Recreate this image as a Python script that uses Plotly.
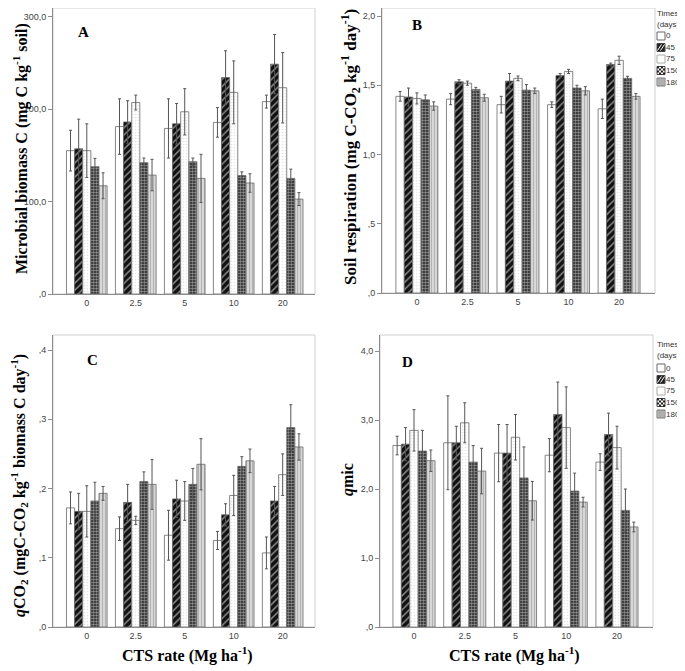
import plotly.graph_objects as go
from plotly.subplots import make_subplots

# la pagina tiene 8 px de margen: la figura se dibuja desplazada
OFF = 8
W, H = 685 - OFF, 671 - OFF

rates = ["0", "2.5", "5", "10", "20"]
times = ["0", "45", "75", "150", "180"]

# filas = tiempos (0, 45, 75, 150, 180 dias), columnas = dosis CTS
mbc = [[155, 181, 179, 185.5, 208],
       [157, 186, 184, 234, 248.5],
       [155, 207, 197, 218, 223],
       [137.6, 142, 143, 128, 125],
       [117, 128.6, 125, 120, 102.6]]
mbc_err = [[22, 30, 32, 16, 7],
           [32, 23, 22, 29, 32],
           [29, 8, 25, 34, 38],
           [9, 5, 4, 4, 10],
           [14, 17, 26, 10, 7]]

resp = [[1.42, 1.40, 1.36, 1.36, 1.33],
        [1.415, 1.525, 1.53, 1.57, 1.65],
        [1.405, 1.515, 1.55, 1.60, 1.68],
        [1.395, 1.47, 1.465, 1.48, 1.55],
        [1.35, 1.41, 1.46, 1.46, 1.42]]
resp_err = [[0.035, 0.04, 0.06, 0.02, 0.07],
            [0.065, 0.015, 0.055, 0.015, 0.01],
            [0.04, 0.015, 0.017, 0.015, 0.03],
            [0.035, 0.015, 0.04, 0.02, 0.015],
            [0.03, 0.025, 0.02, 0.03, 0.02]]

qco2 = [[0.172, 0.142, 0.1325, 0.125, 0.107],
        [0.167, 0.180, 0.185, 0.162, 0.182],
        [0.167, 0.154, 0.182, 0.19, 0.22],
        [0.182, 0.210, 0.206, 0.232, 0.288],
        [0.193, 0.206, 0.235, 0.240, 0.260]]
qco2_err = [[0.023, 0.017, 0.036, 0.013, 0.023],
            [0.026, 0.026, 0.027, 0.016, 0.021],
            [0.037, 0.006, 0.028, 0.029, 0.03],
            [0.027, 0.014, 0.023, 0.014, 0.033],
            [0.01, 0.036, 0.037, 0.017, 0.019]]

qmic = [[2.63, 2.67, 2.52, 2.49, 2.39],
        [2.65, 2.67, 2.52, 3.08, 2.79],
        [2.85, 2.96, 2.75, 2.89, 2.60],
        [2.55, 2.39, 2.16, 1.97, 1.69],
        [2.41, 2.26, 1.83, 1.81, 1.45]]
qmic_err = [[0.135, 0.68, 0.415, 0.24, 0.12],
            [0.24, 0.24, 0.415, 0.47, 0.31],
            [0.3, 0.29, 0.33, 0.59, 0.31],
            [0.3, 0.24, 0.45, 0.26, 0.31],
            [0.155, 0.33, 0.28, 0.07, 0.07]]

# estilos de relleno por tiempo
patterns = [
    dict(shape="", bgcolor="white", fgcolor="white"),
    dict(shape="/", fgcolor="white", bgcolor="#111111", size=5, solidity=0.3),
    dict(shape=".", fgcolor="#cccccc", bgcolor="white", size=3, solidity=0.25),
    dict(shape=".", fgcolor="white", bgcolor="#1e1e1e", size=3, solidity=0.55),
    dict(shape="|", fgcolor="#8a8a8a", bgcolor="#dcdcdc", size=3, solidity=0.4),
]
fills = ["white", "#111111", "white", "#1e1e1e", "#dcdcdc"]

def px(x):
    return (x - OFF) / W

def py(y):
    return min(1, 1 - (y - OFF) / H)

fig = make_subplots(rows=2, cols=2)

panels = [
    (mbc, mbc_err, 1, 1),
    (resp, resp_err, 1, 2),
    (qco2, qco2_err, 2, 1),
    (qmic, qmic_err, 2, 2),
]

for vals, errs, r, c in panels:
    for i, t in enumerate(times):
        fig.add_trace(go.Bar(
            x=rates, y=vals[i], name=t, showlegend=False,
            marker=dict(color=fills[i], line=dict(color="#6a6a6a", width=0.8),
                        pattern=patterns[i]),
            error_y=dict(type="data", array=errs[i], color="#555", thickness=1, width=1.5),
        ), row=r, col=c)

tick_font = dict(family="Liberation Sans, Arial", size=9, color="#444")
axis_common = dict(showline=True, linecolor="#8c8c8c", linewidth=1, showgrid=False,
                   zeroline=False, tickfont=tick_font)

fig.update_layout(
    width=W, height=H,
    margin=dict(l=0, r=0, t=0, b=0, autoexpand=False),
    paper_bgcolor="white", plot_bgcolor="white",
    barmode="group", bargap=0.17, bargroupgap=0,
    xaxis=dict(domain=[px(53), px(315)], range=[-0.69, 4.66], ticks="", **axis_common),
    yaxis=dict(domain=[py(294), 1], range=[0, 309.2], ticks="outside", ticklen=4,
               tickcolor="#8c8c8c", tickvals=[0, 100, 200, 300],
               ticktext=[",0", "100,0", "200,0", "300,0"], **axis_common),
    xaxis2=dict(domain=[px(382), px(655)], range=[-0.69, 4.71], ticks="", **axis_common),
    yaxis2=dict(domain=[py(293), 1], range=[0, 2.058], ticks="outside", ticklen=4,
                tickcolor="#8c8c8c", tickvals=[0, 0.5, 1, 1.5, 2],
                ticktext=[",0", ",5", "1,0", "1,5", "2,0"], **axis_common),
    xaxis3=dict(domain=[px(53), px(315)], range=[-0.69, 4.66], ticks="", **axis_common),
    yaxis3=dict(domain=[py(627), py(335)], range=[0, 0.4217], ticks="outside", ticklen=4,
                tickcolor="#8c8c8c", tickvals=[0, 0.1, 0.2, 0.3, 0.4],
                ticktext=[",0", ",1", ",2", ",3", ",4"], **axis_common),
    xaxis4=dict(domain=[px(380), px(653)], range=[-0.67, 4.71], ticks="", **axis_common),
    yaxis4=dict(domain=[py(627), py(335)], range=[0, 4.232], ticks="outside", ticklen=4,
                tickcolor="#8c8c8c", tickvals=[0, 1, 2, 3, 4],
                ticktext=[",0", "1,0", "2,0", "3,0", "4,0"], **axis_common),
)

# marco gris claro de cada panel
for k in ["", "2", "3", "4"]:
    fig.add_shape(type="rect", xref=f"x{k} domain", yref=f"y{k} domain",
                  x0=0, x1=1, y0=0, y1=1, line=dict(color="#d0d0d0", width=1), layer="below")

serif_b = dict(family="Liberation Serif, Times New Roman", size=15, color="black")

def note(text, x, y, size=15, angle=0, anchor="center", font=None):
    f = dict(serif_b) if font is None else dict(font)
    f["size"] = size
    fig.add_annotation(text=text, x=px(x), y=py(y), xref="paper", yref="paper",
                       showarrow=False, textangle=angle, xanchor=anchor,
                       yanchor="middle", font=f, borderpad=0)

# letras de panel
note("<b>A</b>", 83, 32)
note("<b>B</b>", 417, 25)
note("<b>C</b>", 92, 360)
note("<b>D</b>", 407, 362)

# titulos de ejes
note("<b>Microbial biomass C (mg C kg<sup>-1</sup> soil)</b>", 20, 149, size=16, angle=-90)
note("<b>Soil respiration (mg C-CO<sub>2</sub> kg<sup>-1</sup> day<sup>-1</sup>)</b>",
     350, 147, size=17, angle=-90)
note("<b><i>q</i>CO<sub>2</sub> (mgC-CO<sub>2</sub> kg<sup>-1</sup> biomass C day<sup>-1</sup>)</b>",
     19, 486, size=16, angle=-90)
note("<b><i>q</i>mic</b>", 348, 480, size=16, angle=-90)
note("<b>CTS rate (Mg ha<sup>-1</sup>)</b>", 187, 654, size=16)
note("<b>CTS rate (Mg ha<sup>-1</sup>)</b>", 514, 654, size=16)

# leyendas manuales (Times / days)
leg_font = dict(family="Liberation Sans, Arial", size=8, color="#333")

def swatch(x0, yc, kind):
    y0, y1 = yc - 4, yc + 4
    x1 = x0 + 8
    box = dict(type="rect", xref="paper", yref="paper", x0=px(x0), x1=px(x1),
               y0=py(y1), y1=py(y0))
    if kind == 0:
        fig.add_shape(**box, fillcolor="white", line=dict(color="#666", width=1))
    elif kind == 1:
        fig.add_shape(**box, fillcolor="#222", line=dict(color="#444", width=1))
        for d in [2.5, 5.5]:
            fig.add_shape(type="line", xref="paper", yref="paper",
                          x0=px(x0 + d - 2), y0=py(y1 - 1), x1=px(x0 + d + 2), y1=py(y0 + 1),
                          line=dict(color="white", width=1))
    elif kind == 2:
        fig.add_shape(**box, fillcolor="white", line=dict(color="#aaa", width=1))
    elif kind == 3:
        fig.add_shape(**box, fillcolor="white", line=dict(color="#444", width=1))
        for a in range(4):
            for b in range(4):
                if (a + b) % 2 == 0:
                    fig.add_shape(type="rect", xref="paper", yref="paper",
                                  x0=px(x0 + 2 * a), x1=px(x0 + 2 * a + 2),
                                  y0=py(y0 + 2 * b + 2), y1=py(y0 + 2 * b),
                                  fillcolor="#222", line=dict(width=0))
    else:
        fig.add_shape(**box, fillcolor="#d6d6d6", line=dict(color="#777", width=1))
        for d in [2, 4, 6]:
            fig.add_shape(type="line", xref="paper", yref="paper",
                          x0=px(x0 + d), x1=px(x0 + d), y0=py(y1), y1=py(y0),
                          line=dict(color="#888", width=1))

for row0, t_y, d_y in [(36, 14, 24), (368, 344, 355)]:
    note("Times", 656, t_y, size=8, anchor="left", font=leg_font)
    note("(days)", 656, d_y, size=8, anchor="left", font=leg_font)
    for i, t in enumerate(times):
        yc = row0 + i * 11.5
        swatch(657, yc, i)
        note(t, 665, yc, size=8, anchor="left", font=leg_font)

fig.write_html("out.html")
